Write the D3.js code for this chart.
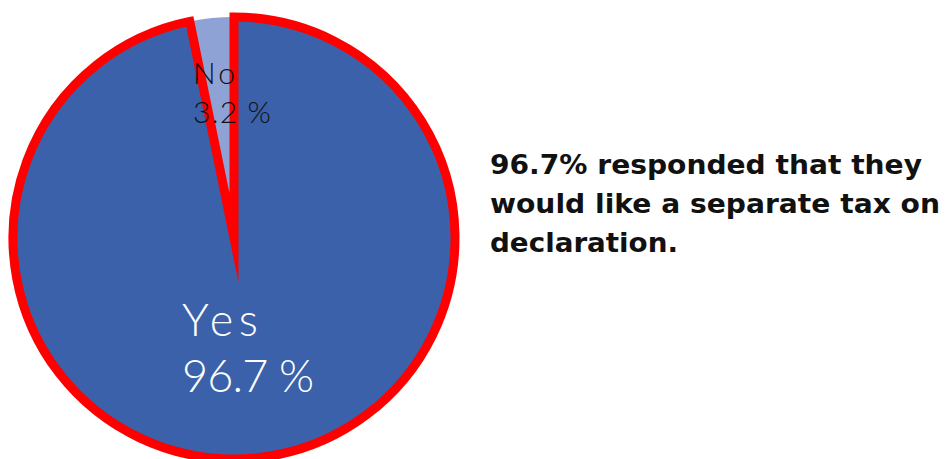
<!DOCTYPE html>
<html>
<head>
<meta charset="utf-8">
<script src="https://cdn.jsdelivr.net/npm/d3@7"></script>
<style>
  html, body { margin: 0; padding: 0; background: #ffffff; }
  svg { display: block; }
</style>
</head>
<body>
<svg id="chart" width="945" height="459"></svg>
<script>
// Survey answers
const categories = ["Yes", "No"];
const values = [96.7, 3.2];
const valueLabels = ["96.7 %", "3.2 %"];
const noteLines = [
  "96.7% responded that they",
  "would like a separate tax on",
  "declaration."
];

const fills = { Yes: "#3b61aa", No: "#8fa2d6" };
const labelColors = { Yes: "#ffffff", No: "#111111" };

const svg = d3.select("#chart");
const cx = 234, cy = 238, r = 221;

const data = categories.map((c, i) => ({ cat: c, value: values[i], label: valueLabels[i] }));

const pie = d3.pie().sort(null).value(d => d.value);
const arcs = pie(data);
const arc = d3.arc().innerRadius(0).outerRadius(r);

const g = svg.append("g").attr("transform", `translate(${cx},${cy})`);

// Small slice underneath, big slice on top with its red outline
const order = arcs.slice().sort((a, b) => a.value - b.value);
g.selectAll("path.slice")
  .data(order)
  .join("path")
  .attr("class", "slice")
  .attr("d", arc)
  .attr("fill", d => fills[d.data.cat])
  .attr("stroke", d => d.data.cat === "Yes" ? "#ff0000" : "none")
  .attr("stroke-width", 9)
  .attr("stroke-linejoin", "miter")
  .attr("stroke-miterlimit", 20);

// Slice labels: category on one line, value below
const labelPos = {
  Yes: { x: 182 - cx, y: 336 - cy, size: 45, gap: 56, w1: 76, w2: 132 },
  No:  { x: 193 - cx, y: 84 - cy, size: 30, gap: 39, w1: 42, w2: 78 }
};
arcs.forEach(d => {
  const p = labelPos[d.data.cat];
  [d.data.cat, d.data.label].forEach((txt, i) => {
    g.append("text")
      .attr("x", p.x).attr("y", p.y + i * p.gap)
      .attr("textLength", i === 0 ? p.w1 : p.w2)
      .attr("lengthAdjust", "spacing")
      .attr("fill", labelColors[d.data.cat])
      .style("font-family", "Lato, 'Noto Sans', sans-serif")
      .style("font-weight", 300)
      .style("font-size", p.size + "px")
      .text(txt);
  });
});

// Side note
const noteWidths = [432, 450, 188];
svg.selectAll("text.note")
  .data(noteLines)
  .join("text")
  .attr("class", "note")
  .attr("x", 490)
  .attr("y", (d, i) => 174 + i * 39)
  .attr("textLength", (d, i) => noteWidths[i])
  .attr("lengthAdjust", "spacingAndGlyphs")
  .attr("fill", "#111111")
  .style("font-family", "'DejaVu Sans', sans-serif")
  .style("font-weight", 700)
  .style("font-size", "27px")
  .text(d => d);
</script>
</body>
</html>
